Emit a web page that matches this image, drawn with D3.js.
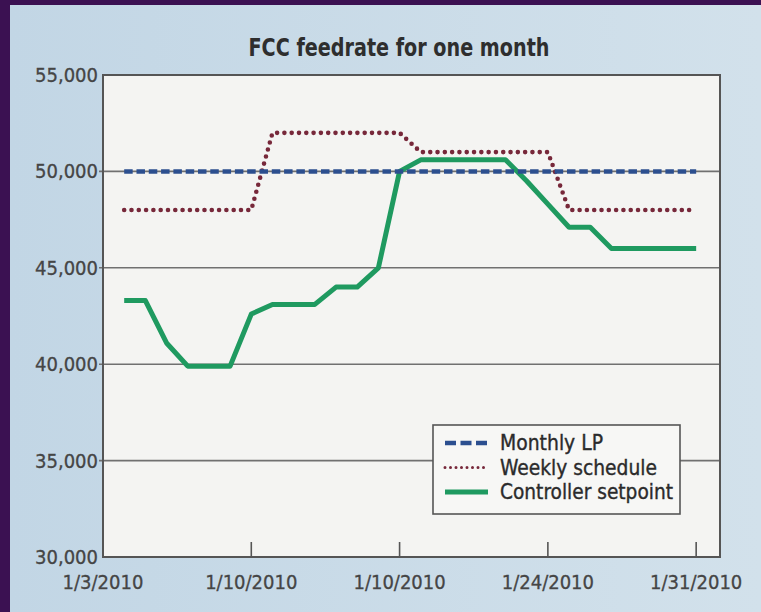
<!DOCTYPE html>
<html>
<head>
<meta charset="utf-8">
<script src="https://cdn.jsdelivr.net/npm/d3@7"></script>
<style>
  body { margin: 0; background: #3b1152; }
  svg { display: block; }
  text { font-family: "Liberation Sans Narrow", "DejaVu Sans Condensed", "Arial Narrow", sans-serif; }
</style>
</head>
<body>
<svg id="chart"></svg>
<script>
// days of January 2010 the series are sampled on
const days = [4, 5, 6, 7, 8, 9, 10, 11, 12, 13, 14, 15, 16, 17, 18, 19, 20, 21, 22, 23, 24, 25, 26, 27, 28, 29, 30, 31];

const monthlyLP = [50000, 50000, 50000, 50000, 50000, 50000, 50000, 50000, 50000, 50000, 50000, 50000, 50000, 50000,
  50000, 50000, 50000, 50000, 50000, 50000, 50000, 50000, 50000, 50000, 50000, 50000, 50000, 50000];
const weeklySchedule = [48000, 48000, 48000, 48000, 48000, 48000, 48000, 52000, 52000, 52000, 52000, 52000, 52000, 52000,
  51000, 51000, 51000, 51000, 51000, 51000, 51000, 48000, 48000, 48000, 48000, 48000, 48000, 48000];
const controllerSetpoint = [43300, 43300, 41100, 39900, 39900, 39900, 42600, 43100, 43100, 43100, 44000, 44000, 45000, 50000,
  50600, 50600, 50600, 50600, 50600, 49500, 48300, 47100, 47100, 46000, 46000, 46000, 46000, 46000];

const yTicks = [30000, 35000, 40000, 45000, 50000, 55000];
const xTickDays = [3, 10, 17, 24, 31];
const xTickLabels = ["1/3/2010", "1/10/2010", "1/10/2010", "1/24/2010", "1/31/2010"];
const seriesNames = ["Monthly LP", "Weekly schedule", "Controller setpoint"];

const W = 761, H = 612;
const plot = { left: 103, right: 720, top: 75, bottom: 557 };

const svg = d3.select("#chart").attr("width", W).attr("height", H);

// page background (scanned light blue with purple frame)
const defs = svg.append("defs");
const bg = defs.append("linearGradient").attr("id", "bg").attr("x1", "0%").attr("x2", "100%");
bg.append("stop").attr("offset", "0%").attr("stop-color", "#c2d6e5");
bg.append("stop").attr("offset", "100%").attr("stop-color", "#d2e1eb");
svg.append("rect").attr("x", 10).attr("y", 5).attr("width", W - 10).attr("height", H - 5).attr("fill", "url(#bg)");

const date = d => new Date(2010, 0, d);
const x = d3.scaleTime()
  .domain([date(3), d3.timeHour.offset(date(32), 3)])
  .range([plot.left, plot.right]);
const y = d3.scaleLinear().domain([30000, 55000]).range([plot.bottom, plot.top]);

svg.append("rect")
  .attr("x", plot.left).attr("y", plot.top)
  .attr("width", plot.right - plot.left).attr("height", plot.bottom - plot.top)
  .attr("fill", "#f4f4f2");

// gridlines
svg.append("g").selectAll("line").data(yTicks.slice(1, -1)).join("line")
  .attr("x1", plot.left - 4).attr("x2", plot.right)
  .attr("y1", d => y(d)).attr("y2", d => y(d))
  .attr("stroke", "#707070").attr("stroke-width", 1.6);

// y labels
svg.append("g").selectAll("text").data(yTicks).join("text")
  .attr("x", plot.left - 5).attr("y", d => y(d))
  .attr("dy", "0.35em").attr("text-anchor", "end")
  .attr("font-size", 20).attr("fill", "#454545")
  .attr("stroke", "#454545").attr("stroke-width", 0.3)
  .text(d => d3.format(",")(d));

// x axis ticks (inside, upward) and labels
svg.append("g").selectAll("line").data(xTickDays.slice(1)).join("line")
  .attr("x1", d => x(date(d))).attr("x2", d => x(date(d)))
  .attr("y1", plot.bottom).attr("y2", plot.bottom - 15)
  .attr("stroke", "#555").attr("stroke-width", 1.6);
svg.append("g").selectAll("text").data(xTickDays).join("text")
  .attr("x", d => x(date(d))).attr("y", 582)
  .attr("dy", "0.35em").attr("text-anchor", "middle")
  .attr("font-size", 20).attr("fill", "#454545")
  .attr("stroke", "#454545").attr("stroke-width", 0.3)
  .text((d, i) => xTickLabels[i]);

// series
const line = vals => d3.line().x((d, i) => x(date(days[i]))).y(d => y(d))(vals);

svg.append("path").attr("d", line(controllerSetpoint))
  .attr("fill", "none").attr("stroke", "#1f9a60").attr("stroke-width", 5)
  .attr("stroke-linejoin", "round");
svg.append("path").attr("d", line(weeklySchedule))
  .attr("fill", "none").attr("stroke", "#77283a").attr("stroke-width", 4.6)
  .attr("stroke-dasharray", "0,7.3").attr("stroke-linecap", "round");
svg.append("path").attr("d", line(monthlyLP))
  .attr("fill", "none").attr("stroke", "#2c4f8f").attr("stroke-width", 4.5)
  .attr("stroke-dasharray", "8.5,3.8");

// plot frame
svg.append("rect")
  .attr("x", plot.left).attr("y", plot.top)
  .attr("width", plot.right - plot.left).attr("height", plot.bottom - plot.top)
  .attr("fill", "none").attr("stroke", "#555").attr("stroke-width", 2);

// title
svg.append("text")
  .attr("x", 399).attr("y", 48).attr("dy", "0.35em")
  .attr("text-anchor", "middle").attr("font-size", 24).attr("font-weight", "bold")
  .attr("textLength", 301).attr("lengthAdjust", "spacingAndGlyphs")
  .attr("fill", "#2e2e2e")
  .text("FCC feedrate for one month");

// legend
const legend = svg.append("g").attr("transform", "translate(433,425)");
legend.append("rect").attr("width", 247).attr("height", 89)
  .attr("fill", "#f7f7f5").attr("stroke", "#555").attr("stroke-width", 1.6);
const styles = [
  { stroke: "#2c4f8f", width: 4.5, dash: "11,4.5", cap: "butt", len: 103 },
  { stroke: "#77283a", width: 3, dash: "0,5.5", cap: "round", len: 157 },
  { stroke: "#1f9a60", width: 5, dash: null, cap: "butt", len: 173 }
];
const rows = legend.selectAll("g").data(seriesNames).join("g")
  .attr("transform", (d, i) => `translate(0,${18 + i * 24.5})`);
rows.append("line").attr("x1", 12).attr("x2", 55).attr("y1", 0).attr("y2", 0)
  .attr("stroke", (d, i) => styles[i].stroke)
  .attr("stroke-width", (d, i) => styles[i].width)
  .attr("stroke-dasharray", (d, i) => styles[i].dash)
  .attr("stroke-linecap", (d, i) => styles[i].cap);
rows.append("text").attr("x", 67).attr("dy", "0.35em")
  .attr("font-size", 21).attr("fill", "#2b2b2b")
  .attr("stroke", "#2b2b2b").attr("stroke-width", 0.35)
  .attr("textLength", (d, i) => styles[i].len).attr("lengthAdjust", "spacingAndGlyphs")
  .text(d => d);
</script>
</body>
</html>
